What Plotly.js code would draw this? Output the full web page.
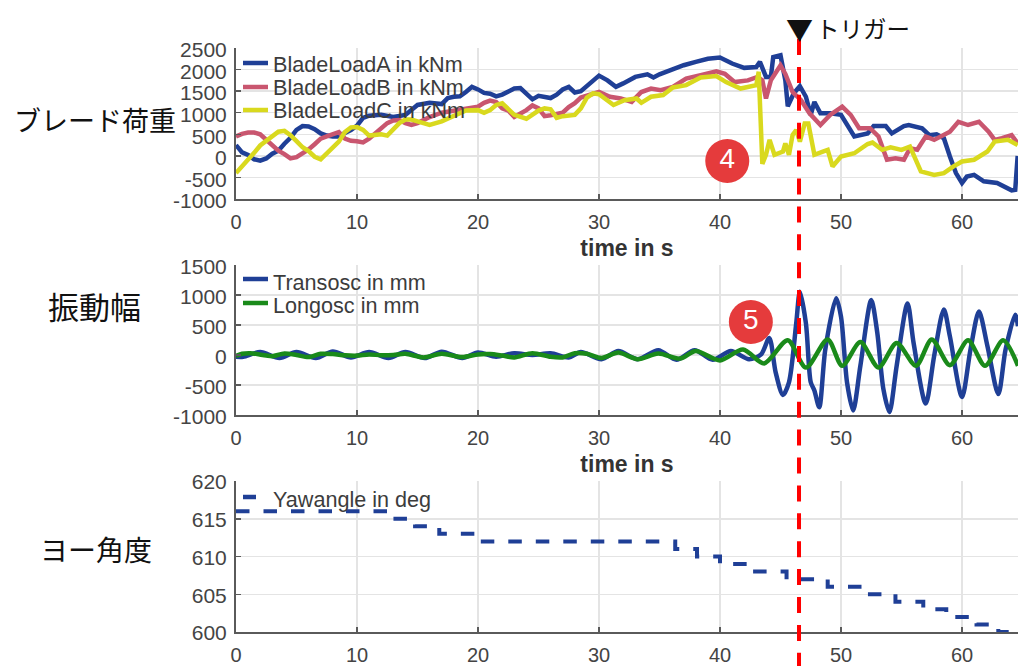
<!DOCTYPE html>
<html><head><meta charset="utf-8">
<script src="https://cdn.plot.ly/plotly-3.0.1.min.js"></script>
<style>html,body{margin:0;padding:0;background:#fff}#c{width:1018px;height:666px}</style>
</head><body><div id="c"></div>
<script>
// ---- data ----
const tLoadA=[0,0.5,1,1.5,2,2.5,3,3.5,4,4.5,5,5.5,6,6.5,7,7.5,8,8.5,9,9.5,10,10.5,11,12,13,14,15,16,17,17.5,18,18.5,19,19.5,20,20.5,21,21.5,22,22.5,23,23.5,24,24.5,25,25.5,26,26.5,27,27.5,28,28.5,29,29.5,30,30.7,31.4,32,33,34,34.5,35,36,37,38,39,40,41,42,43,43.3,43.8,44.2,44.4,45,45.4,45.6,46.1,46.6,47.1,47.5,47.8,48.3,49.1,50,50.4,51.1,52.2,52.7,53.7,54.2,55.2,55.6,56.7,57.3,57.9,58.5,59,59.5,60,60.4,61,61.8,62.9,64.1,64.4,64.6];
const bladeA=[250,80,20,-80,-110,-60,50,120,280,420,600,690,680,620,520,470,450,450,530,600,700,880,930,950,900,950,1180,1230,1200,1340,1370,1380,1480,1600,1540,1460,1440,1380,1420,1480,1560,1570,1440,1310,1390,1360,1340,1420,1540,1600,1470,1500,1620,1750,1860,1750,1600,1680,1830,1890,1815,1890,2000,2100,2180,2250,2280,2140,2040,2060,2180,1830,1830,2290,2330,1750,1150,1450,1615,1370,950,1250,985,985,950,750,450,520,690,690,520,690,715,640,480,500,410,-15,-400,-630,-480,-440,-590,-630,-800,-785,0];
const tLoadB=[0,0.5,1,1.5,2,2.5,3,3.5,4,4.5,5,5.5,6,6.5,7,7.5,8,8.5,9,9.5,10,10.5,11,11.5,12,12.5,13,13.5,14,14.5,15,16,17,18,19,20,20.5,21,21.5,22,22.5,23,24,24.5,25,25.5,26,27,27.5,28,28.5,29,30,30.9,31.8,32.7,33.5,34.3,35.1,36.1,37.2,38.4,39.7,40.4,41.2,42.3,43.1,43.5,43.8,44.2,45,45.4,46,46.7,47.4,48.3,49.1,50.1,50.8,51.5,52.4,53.1,53.8,54.5,55.2,55.7,56.3,57,57.7,59,59.7,60.5,61.4,62.2,62.7,63.3,64.1,64.6];
const bladeB=[450,510,540,540,500,380,230,120,40,-60,-30,50,150,270,400,450,500,550,400,350,340,310,400,520,620,760,820,830,760,720,760,900,1000,1050,1080,1140,1230,1280,1250,1100,1050,900,1060,1170,1100,920,940,1000,1130,1220,1350,1400,1480,1370,1330,1250,1480,1560,1520,1600,1790,1870,1960,1900,1710,1750,1830,1750,1330,1750,2100,1900,1480,1290,985,715,950,1140,950,640,640,450,-90,-55,-90,175,140,450,370,560,790,715,790,560,370,410,480,290];
const tLoadC=[0,0.5,1,1.5,2,2.5,3,3.5,4,4.5,5,5.5,6,6.5,7,7.5,8,8.5,9,9.5,10,10.5,11,11.5,12,12.5,13,13.5,14,14.5,15,16,17,18,19,20,20.5,21,21.5,22,22.5,23,24,24.5,25,25.5,26,26.5,27,28,28.5,29,29.5,30,31.2,32.1,33.1,33.5,34.3,35.3,36.1,37.2,38.4,39.7,40.5,41.7,43,43.2,43.4,43.5,43.8,44.1,44.5,45.2,45.4,45.7,46,46.3,46.6,47,47.3,47.8,48.5,48.9,49.3,50,51.1,52.2,52.6,53.4,54.1,55,55.7,56.2,56.6,57.7,58.5,59.3,60,61,62.1,62.7,63.8,64.6];
const bladeC=[-400,-250,-100,70,240,340,450,560,580,480,340,200,110,-20,-80,50,200,330,550,660,670,600,470,490,500,470,600,760,840,840,800,720,800,920,1050,1060,1000,1060,1180,1220,1080,950,860,960,1050,1100,1080,880,920,950,1100,1350,1450,1430,1180,1290,1330,1230,1370,1410,1585,1640,1815,1850,1710,1560,1640,1950,520,-185,25,370,25,100,290,25,485,600,330,750,750,25,100,140,-245,-15,60,275,310,140,200,140,215,-90,-360,-440,-400,-245,-130,-90,100,330,370,250];
const tTrans=[0,0.6,2,3.6,5,6.6,8,9.5,11,12.6,14,15.6,17,18.7,20,21.5,23,24.5,26,27.5,28.5,30.2,31.6,33.2,34.9,36.4,37.9,39.4,40.9,42.4,43.4,44.07,44.6,45.2,45.7,46.3,46.6,47.1,47.5,47.8,48.2,48.7,49.6,50,50.5,51,51.6,52.5,53,53.5,54,54.6,55.5,56,57,57.7,58.5,59,60,60.7,61.4,62.1,63,63.6,64.4,64.63];
const transOsc=[-30,-30,50,-50,50,-50,60,-40,50,-50,50,-50,55,-50,40,-30,30,0,30,-40,50,-70,65,-70,80,-80,80,-80,65,-70,10,285,-290,-665,-455,530,1055,530,-455,-590,-870,90,945,640,-460,-925,-180,915,370,-565,-950,-180,860,200,-810,-15,760,310,-700,90,725,150,-650,90,670,480];
const tLong=[0,0.5,1.2,2.5,3,4,5,6,7,8,9,10,11,12,13,14,15.5,17,18.7,20,21,22,23,24.5,26,27,28,29,30.2,31.6,33.2,34.9,36.7,38,40,41.9,43.65,45.6,47.1,48.9,50.1,51.6,53.1,54.6,56.2,57.5,59,60.5,61.9,63.4,64.63];
const longOsc=[-15,20,30,-10,-20,25,0,-35,20,15,-5,-10,10,-5,0,20,-40,20,-35,10,15,-10,-40,30,-30,-40,30,20,-50,40,-70,25,-60,65,-90,90,-140,245,-210,260,-180,215,-210,200,-180,260,-170,245,-180,245,-180];
const tYaw=[0,13,14.8,16.8,19.7,36.3,38.1,40,42.7,45.5,48.9,51.8,54.5,56.8,58.7,61.2,63,64.63];
const yawAngle=[616,615,614,613,612,611,610,609,608,607,606,605,604,603,602,601,600,600];
const triggerTime=[46.53];
const xTicks=[0,10,20,30,40,50,60];
const loadTicks=[-1000,-500,0,500,1000,1500,2000,2500];
const oscTicks=[-1000,-500,0,500,1000,1500];
const yawTicks=[600,605,610,615,620];
const badgeT=[40.6,42.55], badgeV=[-119,550], badgeText=['4','5'];

// ---- styling / layout ----
const W=1018,H=666;
const px=x=>x/W, py=y=>1-y/H;
const BLUE='#1f3f96',PINK='#c9566f',YEL='#d9d91e',GRN='#1a8a1a',AX='#5a5a5a',TXT='#444444';
const SANS='"Liberation Sans",Arial,sans-serif', JP='"Noto Sans CJK JP",sans-serif';
const line=(x,y,c,xa,ya,extra)=>({type:'scatter',mode:'lines',x,y,xaxis:xa,yaxis:ya,showlegend:false,hoverinfo:'skip',line:Object.assign({color:c,width:4.5},extra||{})});
const traces=[
 line(tLoadA,bladeA,BLUE,'x','y'),
 line(tLoadB,bladeB,PINK,'x','y'),
 line(tLoadC,bladeC,YEL,'x','y'),
 line(tTrans,transOsc,BLUE,'x2','y2',{shape:'spline',smoothing:0.8}),
 line(tLong,longOsc,GRN,'x2','y2',{shape:'spline',smoothing:0.8}),
 line(tYaw,yawAngle,BLUE,'x3','y3',{shape:'hv',dash:'13.5px,14px',width:4}),
 {type:'scatter',mode:'markers+text',x:[badgeT[0]],y:[badgeV[0]],text:[badgeText[0]],xaxis:'x',yaxis:'y',showlegend:false,hoverinfo:'skip',cliponaxis:false,
  marker:{size:44,color:'#e53b3c'},textposition:'middle center',textfont:{family:SANS,size:28,color:'#ffffff'}},
 {type:'scatter',mode:'markers+text',x:[badgeT[1]],y:[badgeV[1]],text:[badgeText[1]],xaxis:'x2',yaxis:'y2',showlegend:false,hoverinfo:'skip',cliponaxis:false,
  marker:{size:44,color:'#e53b3c'},textposition:'middle center',textfont:{family:SANS,size:28,color:'#ffffff'}}
];
const XR=[0,(W-236)/12.1];
const xaxis=(anchor,title)=>({domain:[px(236),1],range:XR,anchor,tickvals:xTicks,ticktext:xTicks.map(String),ticks:'inside',ticklen:5,tickwidth:1.5,tickcolor:AX,
  showline:true,linecolor:AX,linewidth:2,gridcolor:'#e4e4e4',gridwidth:1.5,zeroline:false,tickfont:{family:SANS,size:20,color:TXT},ticklabelstandoff:4,
  title:title?{text:'<b>time in s</b>',font:{family:SANS,size:23,color:'#333'},standoff:8}:undefined});
const yaxis=(anchor,top,bot,range,ticks,shift)=>({domain:[py(bot),py(top)],range,anchor,tickvals:ticks,ticktext:ticks.map(String),ticks:'inside',ticklen:5,tickwidth:1.5,tickcolor:AX,
  showline:true,linecolor:AX,linewidth:2,gridcolor:'#e4e4e4',gridwidth:1.5,zeroline:false,tickfont:{family:SANS,size:21,color:TXT},ticklabelstandoff:3,ticklabelshift:shift});
const note=(text,x,y,font,anchor)=>({xref:'paper',yref:'paper',x:px(x),y:py(y),text,showarrow:false,xanchor:anchor||'left',yanchor:'middle',font,borderpad:0});
const LEG={family:SANS,size:21.6,color:'#3c3c3c'}, LAB={family:JP,size:27,color:'#111111'};
const swatch=(y,c,x1)=>({type:'line',xref:'paper',yref:'paper',x0:px(243),x1:px(x1||268),y0:py(y),y1:py(y),line:{color:c,width:4.5}});
const layout={width:W,height:H,autosize:false,margin:{l:0,r:0,t:0,b:0},paper_bgcolor:'#fff',plot_bgcolor:'#fff',showlegend:false,
 xaxis:xaxis('y',true),yaxis:yaxis('x',48,199,[-1000,2500],loadTicks,2),
 xaxis2:xaxis('y2',true),yaxis2:yaxis('x2',265,415,[-1000,1500],oscTicks,2),
 xaxis3:xaxis('y3',false),yaxis3:yaxis('x3',481,632,[600,620],yawTicks,1),
 shapes:[
  swatch(63,BLUE),swatch(87,PINK),swatch(110,YEL),swatch(279,BLUE),swatch(303,GRN),swatch(497,BLUE,256),
  {type:'line',xref:'x',yref:'paper',x0:triggerTime[0],x1:triggerTime[0],y0:py(39),y1:0,line:{color:'#ff0000',width:4,dash:'16px,11.9px'}}
 ],
 annotations:[
  note('BladeLoadA in kNm',272,64,LEG),note('BladeLoadB in kNm',272,87,LEG),note('BladeLoadC in kNm',272,111,LEG),
  note('Transosc in mm',272,282,LEG),note('Longosc in mm',272,305,LEG),note('Yawangle in deg',272,499,LEG),
  note('ブレード荷重',13,120,LAB),note('振動幅',47,305,{family:JP,size:31,color:'#111111'}),note('ヨー角度',39,549,{family:JP,size:28,color:'#111111'}),
  note('▼',785,28,{family:JP,size:27,color:'#111111'}),note('トリガー',815,28,{family:JP,size:23.5,color:'#111111'})
 ]};
Plotly.newPlot('c',traces,layout,{staticPlot:true,displayModeBar:false});
</script></body></html>
